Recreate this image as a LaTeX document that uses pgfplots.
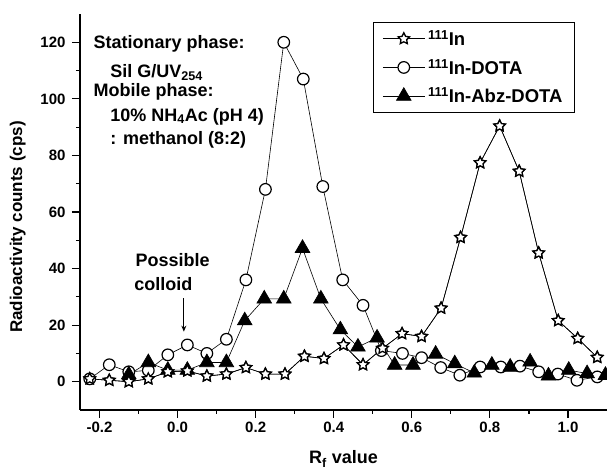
\documentclass[border=0pt]{standalone}
\usepackage{fontspec}
\setmainfont{Liberation Sans}
\usepackage{pgfplots}
\usepackage{pgfplotstable}
\usetikzlibrary{arrows.meta}
\pgfplotsset{compat=1.18}
\pgfdeclareplotmark{ostar}{%
  \pgfpathmoveto{\pgfpointpolar{90}{\pgfplotmarksize}}%
  \pgfpathlineto{\pgfpointpolar{126}{0.5\pgfplotmarksize}}%
  \pgfpathlineto{\pgfpointpolar{162}{\pgfplotmarksize}}%
  \pgfpathlineto{\pgfpointpolar{198}{0.5\pgfplotmarksize}}%
  \pgfpathlineto{\pgfpointpolar{234}{\pgfplotmarksize}}%
  \pgfpathlineto{\pgfpointpolar{270}{0.5\pgfplotmarksize}}%
  \pgfpathlineto{\pgfpointpolar{306}{\pgfplotmarksize}}%
  \pgfpathlineto{\pgfpointpolar{342}{0.5\pgfplotmarksize}}%
  \pgfpathlineto{\pgfpointpolar{18}{\pgfplotmarksize}}%
  \pgfpathlineto{\pgfpointpolar{54}{0.5\pgfplotmarksize}}%
  \pgfpathclose
  \pgfusepathqfillstroke}

\pgfplotstableread{
x y
-0.225 1
-0.175 0.5
-0.125 0
-0.075 1
-0.025 3.5
0.025 3.8
0.075 2
0.125 2.7
0.175 5
0.225 2.7
0.275 2.7
0.325 9
0.375 8.2
0.425 13
0.475 6
0.525 11.8
0.575 17
0.625 16
0.675 26
0.725 51
0.775 77.4
0.825 90.4
0.875 74.4
0.925 45.5
0.975 21.6
1.025 15.3
1.075 8.6
}\tabIn

\pgfplotstableread{
x y
-0.225 1
-0.175 6
-0.125 3.5
-0.075 4
-0.025 9.5
0.025 13
0.075 10
0.125 15
0.175 36
0.225 68
0.272 120
0.322 107
0.372 69
0.423 36
0.475 27
0.522 11
0.576 10
0.625 8.5
0.674 5
0.723 2.3
0.775 5.2
0.828 5.2
0.877 5.5
0.925 3.5
0.974 2.7
1.023 0.5
1.075 1.7
}\tabDOTA

\pgfplotstableread{
x y
-0.125 2.5
-0.075 6.8
-0.025 4.1
0.025 4.1
0.075 6.8
0.125 6.8
0.172 21.6
0.222 29.3
0.272 29.3
0.320 47.2
0.367 29.3
0.417 18.4
0.462 12.3
0.511 15.5
0.556 5.9
0.603 5.9
0.661 9.8
0.710 6.4
0.760 3.1
0.805 5.9
0.852 5.2
0.903 7.0
0.950 2.1
1.002 4.1
1.049 2.9
1.096 2.3
}\tabAbz

\begin{document}
\begin{tikzpicture}
\begin{axis}[
  name=ax,
  scale only axis, width=527pt, height=396pt,
  xmin=-0.25, xmax=1.1, ymin=-10, ymax=130,
  axis lines*=left,
  axis line style={line width=1.4pt},
  xtick={-0.2,0,0.2,0.4,0.6,0.8,1.0},
  ytick={0,20,40,60,80,100,120},
  minor x tick num=1, minor y tick num=1,
  tick align=outside,
  major tick length=8pt, minor tick length=4pt,
  tick style={line width=1.2pt, black},
  /pgf/number format/assume math mode=true,
  xticklabel style={/pgf/number format/fixed, /pgf/number format/fixed zerofill, /pgf/number format/precision=1},
  yticklabel style={xshift=-3pt},
  tick label style={font=\fontsize{15}{15}\selectfont\bfseries},
  xlabel={R\textsubscript{f} value},
  ylabel={Radioactivity counts (cps)},
  xlabel style={font=\fontsize{18}{18}\selectfont\bfseries, at={(axis description cs:0.5,0)}, anchor=base, yshift=-54pt},
  ylabel style={font=\fontsize{17}{17}\selectfont\bfseries, at={(axis description cs:-0.118,0.462)}, anchor=center},
  legend cell align=left,
  legend style={at={(axis description cs:0.537,0.98)}, xshift=10pt, anchor=north west, draw=black, line width=1pt,
     font=\fontsize{18.5}{18.5}\selectfont\bfseries, row sep=10pt, inner xsep=9pt, inner ysep=7pt,
     nodes={inner xsep=3pt, inner ysep=1pt}},
  legend image code/.code={\draw[mark repeat=2,mark phase=2,#1] plot coordinates {(0pt,0pt) (21pt,0pt) (42pt,0pt)};},
  every axis plot/.append style={line width=0.6pt},
]
\addplot[black, mark=ostar, mark size=6pt, mark options={fill=white, line width=1.3pt, solid}] table {\tabIn};
\addlegendentry{\textsuperscript{111}In}
\addplot[black, mark=*, mark size=5.8pt, mark options={fill=white, line width=1.2pt, solid}] table {\tabDOTA};
\addlegendentry{\textsuperscript{111}In-DOTA}
\addplot[black, mark=triangle*, mark size=8.5pt, mark options={fill=black, solid}] table {\tabAbz};
\addlegendentry{\textsuperscript{111}In-Abz-DOTA}
\addplot[black, forget plot, mark=ostar, mark size=6pt, mark options={fill=white, line width=1.3pt, solid}] table {\tabIn};

\begin{scope}[font=\fontsize{18}{18}\selectfont\bfseries]
\node[anchor=base west, inner sep=0pt] at (axis cs:-0.2155,117.9) {Stationary phase:};
\node[anchor=base west, inner sep=0pt] at (axis cs:-0.1725,107.6) {Sil G/UV\textsubscript{254}};
\node[anchor=base west, inner sep=0pt] at (axis cs:-0.2155,101.0) {Mobile phase:};
\node[anchor=base west, inner sep=0pt] at (axis cs:-0.1725,92.1) {10\% NH\textsubscript{4}Ac (pH 4)};
\node[anchor=base west, inner sep=0pt] at (axis cs:-0.1725,83.9) {: methanol (8:2)};
\node[anchor=base west, inner sep=0pt] at (axis cs:-0.108,40.7) {Possible};
\node[anchor=base west, inner sep=0pt] at (axis cs:-0.111,32.4) {colloid};
\end{scope}
\draw[-{Stealth[length=6pt,width=5pt]}, line width=1pt] (axis cs:0.016,29.5) -- (axis cs:0.016,17.7);
\end{axis}
\pgfresetboundingbox
\path[use as bounding box] ([shift={(-80pt,-60pt)}]ax.south west) rectangle ([shift={(0pt,14pt)}]ax.north east);
\end{tikzpicture}
\end{document}
